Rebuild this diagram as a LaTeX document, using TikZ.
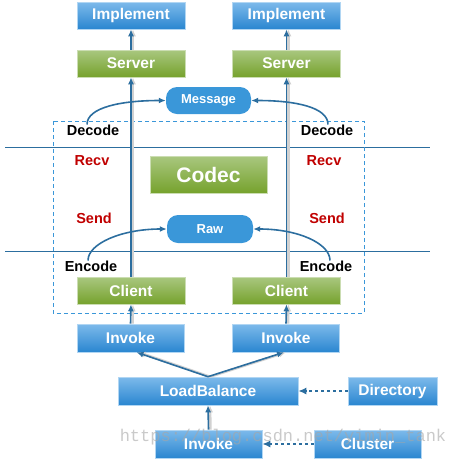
\documentclass[tikz,border=0pt]{standalone}
\usepackage{fontspec}
\setmainfont{Liberation Sans}
\newfontfamily\markfont{Liberation Mono}
\usetikzlibrary{arrows.meta}
\definecolor{arrowblue}{HTML}{2C6E9F}
\definecolor{pillblue}{HTML}{3A97D9}
\definecolor{boxtop}{HTML}{7DBAEB}
\definecolor{boxbot}{HTML}{2A86D0}
\definecolor{greentop}{HTML}{A9C77F}
\definecolor{greenbot}{HTML}{76A22D}
\definecolor{recvred}{HTML}{C00000}
\tikzset{
    bluebox/.style={rectangle, minimum width=108pt, minimum height=27pt, inner sep=0pt,
        top color=boxtop, bottom color=boxbot, draw=boxtop!60, line width=0.6pt,
        text=white, font=\bfseries\fontsize{15.5}{18}\selectfont},
    greenbox/.style={bluebox, top color=greentop, bottom color=greenbot, draw=greentop!60},
    pill/.style={rectangle, rounded corners=11pt, minimum width=85pt, minimum height=27pt,
        fill=pillblue, text=white, font=\bfseries\fontsize{13}{15}\selectfont},
    sidelabel/.style={font=\bfseries\fontsize{14.5}{17}\selectfont, inner sep=1pt},
    flow/.style={draw=arrowblue, line width=1.6pt, -{Latex[length=7pt,width=6pt]},
        preaction={draw=black!18, line width=2.5pt, transform canvas={xshift=2pt}}},
    curveflow/.style={draw=arrowblue, line width=1.6pt, -{Latex[length=7pt,width=6pt]}},
    dashflow/.style={draw=arrowblue, line width=1.6pt, dashed, -{Latex[length=8pt,width=7pt]}}
}
\begin{document}
\begin{tikzpicture}[x=1pt,y=-1pt]
    \useasboundingbox (0,0) rectangle (457,459);
    % layers
    \draw[arrowblue, line width=0.8pt] (5,147) -- (430,147);
    \draw[arrowblue, line width=0.8pt] (5,251) -- (430,251);
    \draw[pillblue, line width=0.8pt, dash pattern=on 4pt off 3pt] (53,121) rectangle (364,313);
    % provider side
    \node[bluebox] (impL) at (131,15.5) {Implement};
    \node[bluebox] (impR) at (286.5,15.5) {Implement};
    \node[greenbox] (srvL) at (131,63.5) {Server};
    \node[greenbox] (srvR) at (286.5,63.5) {Server};
    \node[pill] (msg) at (208.5,100.5) {Message};
    % codec
    \node[greenbox, minimum width=117pt, minimum height=37pt,
        font=\bfseries\fontsize{21}{24}\selectfont] (codec) at (208.5,174.5) {Codec};
    \node[pill, minimum width=86pt, minimum height=28pt] (raw) at (210,229) {Raw};
    \node[sidelabel] (decL) at (93,130) {Decode};
    \node[sidelabel] (decR) at (327,130) {Decode};
    \node[sidelabel, text=recvred] (recvL) at (92,161) {Recv};
    \node[sidelabel, text=recvred] (recvR) at (324,161) {Recv};
    \node[sidelabel, text=recvred] (sendL) at (94,218) {Send};
    \node[sidelabel, text=recvred] (sendR) at (327,218) {Send};
    \node[sidelabel] (encL) at (91,266) {Encode};
    \node[sidelabel] (encR) at (326,266) {Encode};
    % consumer side
    \node[greenbox] (cliL) at (131,290.5) {Client};
    \node[greenbox] (cliR) at (286.5,290.5) {Client};
    \node[bluebox, minimum width=107pt, minimum height=28pt] (invL) at (130.5,338) {Invoke};
    \node[bluebox, minimum width=107pt, minimum height=28pt] (invR) at (286,338) {Invoke};
    \node[bluebox, minimum width=180pt, minimum height=28pt] (lb) at (208,391) {LoadBalance};
    \node[bluebox, minimum width=89pt, minimum height=28pt] (dir) at (392.5,391) {Directory};
    \node[bluebox, minimum width=107pt, minimum height=28pt] (invB) at (208.5,444) {Invoke};
    \node[bluebox, minimum width=107pt, minimum height=28pt] (clu) at (367.5,444) {Cluster};
    % call path
    \draw[flow] (srvL.north) -- (impL.south);
    \draw[flow] (srvR.north) -- (impR.south);
    \draw[flow] (cliL.north) -- (srvL.south);
    \draw[flow] (cliR.north) -- (srvR.south);
    \draw[flow] (invL.north) -- (cliL.south);
    \draw[flow] (invR.north) -- (cliR.south);
    \draw[flow] (lb.north) -- ([xshift=6pt]invL.south);
    \draw[flow] (lb.north) -- ([xshift=-2pt]invR.south);
    \draw[flow] (invB.north) -- (lb.south);
    \draw[dashflow] (dir.west) -- (lb.east);
    \draw[dashflow] (clu.west) -- (invB.east);
    % codec curves
    \draw[curveflow] ([xshift=-6pt,yshift=-1pt]decL.north) .. controls +(0,-17) and +(-45,0) .. (msg.west);
    \draw[curveflow] ([xshift=1pt,yshift=-1pt]decR.north) .. controls +(0,-17) and +(45,0) .. (msg.east);
    \draw[curveflow] ([xshift=-3pt,yshift=-1pt]encL.north) .. controls +(0,-17) and +(-45,0) .. (raw.west);
    \draw[curveflow] ([xshift=4pt,yshift=-1pt]encR.north) .. controls +(0,-17) and +(45,0) .. (raw.east);
    % watermark
    \node[text=black!35, opacity=0.6, font=\markfont\fontsize{17}{19}\selectfont] (mark) at (283,437) {https://blog.csdn.net/yimin\_tank};
\end{tikzpicture}
\end{document}
